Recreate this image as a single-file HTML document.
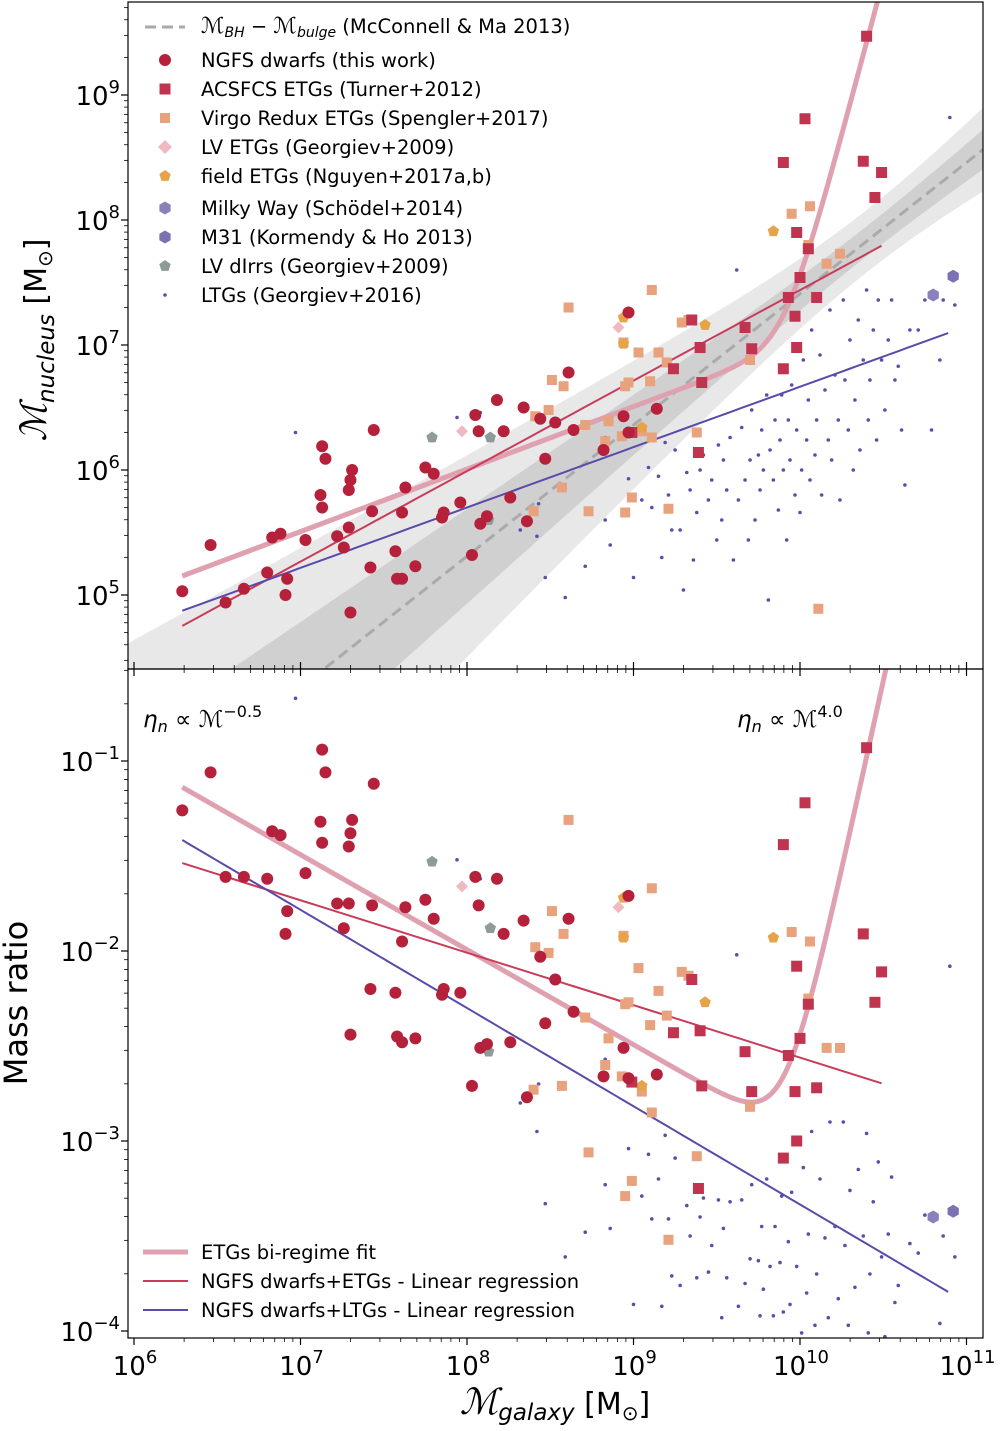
<!DOCTYPE html>
<html><head><meta charset="utf-8"><style>
body{margin:0;background:#fff;overflow:hidden;}
svg{display:block;font-family:"DejaVu Sans","Liberation Sans",sans-serif;}
</style></head><body>
<svg id="chart" width="1000" height="1431" viewBox="0 0 1000 1431" xmlns="http://www.w3.org/2000/svg">
<defs>
<clipPath id="ct"><rect x="128" y="2" width="855" height="667"/></clipPath>
<clipPath id="cb"><rect x="128" y="669" width="855" height="669"/></clipPath>
</defs>
<g id="topPanel" clip-path="url(#ct)"></g>
<g id="botPanel" clip-path="url(#cb)"></g>
<g id="axes"></g>
</svg>
<script>
// data: log10 galaxy mass, log10 nucleus mass
const ngfsM=[6.29,6.46,6.55,6.66,6.80,6.83,6.88,6.92,6.91,7.03,7.12,7.13,7.15,7.13,7.22,7.26,7.30,7.31,7.29,7.30,7.29,7.43,7.44,7.42,7.57,7.58,7.61,7.63,7.61,7.69,7.75,7.80,7.85,7.86,7.96,8.03,8.05,8.07,8.08,8.12,8.18,8.22,8.26,8.34,8.36,8.44,8.47,8.53,8.61,8.64,8.82,8.94,8.97,8.97,9.14];
const ngfsN=[5.03,5.40,4.94,5.05,5.18,5.46,5.49,5.13,5.00,5.44,5.80,6.19,6.09,5.70,5.47,5.38,5.92,6.00,5.54,4.86,5.84,5.67,6.32,5.22,5.35,5.13,5.13,5.86,5.66,5.23,6.02,5.97,5.62,5.66,5.74,5.32,6.44,6.31,5.57,5.63,6.56,6.31,5.78,6.50,5.59,6.41,6.09,6.38,6.78,6.32,6.16,6.43,7.26,6.30,6.49];
const acsM=[10.40,10.03,9.90,10.38,10.49,10.45,9.98,10.05,10.00,9.93,10.10,9.97,9.67,9.35,9.40,9.71,9.98,8.99,9.24,9.41,9.39,9.90];
const acsN=[9.47,8.81,8.46,8.47,8.38,8.18,7.90,7.77,7.54,7.38,7.38,7.23,7.14,7.20,6.98,6.97,6.98,6.30,6.81,6.70,6.14,6.81];
const virM=[8.61,9.11,9.29,9.33,8.94,9.03,9.15,9.20,8.97,8.95,9.10,8.51,8.58,8.49,8.71,8.41,8.40,8.73,8.85,8.93,8.83,9.05,9.11,9.38,8.99,8.95,9.21,8.57,9.95,10.06,10.05,10.16,10.24,10.11,9.70];
const virN=[7.30,7.44,7.18,7.20,7.02,6.94,6.94,6.86,6.70,6.67,6.71,6.72,6.67,6.48,6.36,6.43,5.67,5.67,6.39,6.27,6.23,6.31,6.26,6.30,5.78,5.66,5.69,5.86,8.05,8.11,7.80,7.65,7.73,4.89,6.88];
const lvM=[8.91,7.97], lvN=[7.14,6.31];
const fieldM=[9.84,9.43,8.94,8.94,9.05], fieldN=[7.91,7.16,7.22,7.01,6.34];
const mwM=[10.80], mwN=[7.40];
const m31M=[10.92], m31N=[7.55];
const dirrM=[7.79,8.14,8.13], dirrN=[6.26,6.26,5.60];
const ltgM=[6.97,7.94,8.08,8.32,8.42,8.43,8.47,8.59,8.71,8.83,8.83,8.86,8.97,9.00,9.05,9.09,9.11,9.15,9.17,9.19,9.21,9.23,9.25,9.28,9.30,9.32,9.34,9.36,9.38,9.40,9.42,9.45,9.47,9.50,9.51,9.53,9.54,9.56,9.58,9.60,9.62,9.63,9.65,9.67,9.69,9.70,9.71,9.73,9.75,9.76,9.77,9.78,9.80,9.81,9.82,9.84,9.85,9.87,9.88,9.89,9.90,9.92,9.93,9.94,9.95,9.97,9.98,10.00,10.01,10.02,10.04,10.05,10.06,10.07,10.09,10.10,10.12,10.13,10.15,10.17,10.18,10.19,10.21,10.23,10.24,10.26,10.27,10.29,10.30,10.32,10.33,10.35,10.36,10.38,10.40,10.41,10.42,10.44,10.46,10.47,10.49,10.51,10.53,10.55,10.57,10.59,10.61,10.63,10.66,10.71,10.75,10.79,10.84,10.86,10.90,10.93];
const ltgN=[6.30,6.42,6.46,5.52,5.47,5.73,5.14,4.98,5.23,5.60,6.26,5.40,5.93,5.14,5.76,6.02,5.70,5.95,5.30,6.22,5.80,5.52,6.16,5.52,5.04,5.98,5.84,5.28,5.66,6.00,6.12,5.76,5.92,5.44,6.20,5.60,6.08,5.84,6.26,5.28,7.60,5.76,6.34,5.92,5.44,6.08,6.48,5.60,6.12,5.84,6.32,6.00,6.60,4.96,6.16,5.92,6.40,5.68,6.24,6.60,6.00,5.44,6.40,6.08,6.68,5.80,6.32,5.66,6.00,6.88,6.24,6.56,5.92,7.12,6.12,6.40,6.92,5.80,6.64,6.24,7.28,6.08,6.76,6.40,5.76,7.36,6.72,6.32,7.04,6.00,6.56,7.20,6.16,6.88,7.44,6.40,6.72,7.12,6.24,7.36,6.88,6.48,7.04,7.36,6.72,6.83,6.32,5.88,7.12,7.12,7.36,6.32,6.88,7.36,8.82,7.32];
// fits (log space)
const mcPivot=11, mcN0=8.46, mcSlope=1.05;
const biA1=2.007, biA2=-42.58, biP1=-0.5, biP2=4.0;
const etgFit=[-1.537,-0.276,6.29,10.49];
const ltgFit=[-1.416,-0.517,6.29,10.93];
const xTicks=[6,7,8,9,10,11];
const yTopTicks=[5,6,7,8,9];
const yBotTicks=[-1,-2,-3,-4];

const X=m=>134+(m-6)*166.5;
const YT=n=>95+(9-n)*125;
const YB=e=>761+(-1-e)*190;
const clampT=y=>Math.max(0,Math.min(671,y));
const NS='http://www.w3.org/2000/svg';
function mk(tag,attrs,parent,txt){const e=document.createElementNS(NS,tag);for(const k in attrs)e.setAttribute(k,attrs[k]);if(txt!==undefined)e.textContent=txt;parent.appendChild(e);return e;}
const topG=document.getElementById('topPanel'),botG=document.getElementById('botPanel'),axes=document.getElementById('axes');

function band(a,b,c){let up=[],lo=[];for(let m=5.96;m<=11.1;m+=0.02){const mid=mcN0+mcSlope*(m-mcPivot),w=Math.sqrt(a*a+(b*(m-c))**2);up.push(X(m)+','+clampT(YT(mid+w)));lo.push(X(m)+','+clampT(YT(mid-w)));}return up.concat(lo.reverse()).join(' ');}
let e=mk('polygon',{points:band(0.25,0.32,10.4),fill:'#000','fill-opacity':0.09},topG);


e=mk('polygon',{points:band(0.12,0.15,10.4),fill:'#000','fill-opacity':0.1},topG);


e=mk('line',{x1:X(7.15),y1:YT(mcN0+mcSlope*(7.15-mcPivot)),x2:X(11.1),y2:YT(mcN0+mcSlope*(11.1-mcPivot)),stroke:'#aaa','stroke-width':3,'stroke-dasharray':'11,6'},topG);



function fitPts(f,panel){const p=[];for(let m=f[2];m<=f[3]+1e-9;m+=0.05){const r=f[0]+f[1]*(m-f[2]);p.push(X(m)+','+(panel?YT(r+m):YB(r)));}return p.join(' ');}
function biPts(panel){const p=[];for(let m=6.29;m<=10.8;m+=0.01){const r=Math.log10(Math.pow(10,biA1+biP1*m)+Math.pow(10,biA2+biP2*m));const y=panel?YT(r+m):YB(r);p.push(X(m)+','+y);if((panel&&y<-10)||(!panel&&y<660))break;}return p.join(' ');}
[[topG,1],[botG,0]].forEach(([g,pn])=>{
 let l=mk('polyline',{points:biPts(pn),fill:'none',stroke:'#dfa1b0','stroke-width':5},g);
 
 
 l=mk('polyline',{points:fitPts(etgFit,pn),fill:'none',stroke:'#c83c5a','stroke-width':2},g);
 
 
 l=mk('polyline',{points:fitPts(ltgFit,pn),fill:'none',stroke:'#5a4aaa','stroke-width':2},g);
 
 
});

function marker(g,type,x,y,col,s){
 if(type==='c')return mk('circle',{cx:x,cy:y,r:s,fill:col},g);
 if(type==='s')return mk('rect',{x:x-s,y:y-s,width:2*s,height:2*s,fill:col},g);
 if(type==='d')return mk('polygon',{points:`${x},${y-s} ${x+s},${y} ${x},${y+s} ${x-s},${y}`,fill:col},g);
 let pts=[],n=type==='p'?5:6,off=type==='p'?-Math.PI/2:Math.PI/2;
 for(let i=0;i<n;i++){const a=off+i*2*Math.PI/n;pts.push((x+s*Math.cos(a))+','+(y+s*Math.sin(a)));}
 return mk('polygon',{points:pts.join(' '),fill:col},g);
}
const series=[
 ['ltg',ltgM,ltgN,'c','#5a4fa8',1.8],
 ['dirr',dirrM,dirrN,'p','#8d9c9a',6],
 ['virgo',virM,virN,'s','#e8a27e',5],
 ['lv-etg',lvM,lvN,'d','#f0b8c0',6],
 ['field-etg',fieldM,fieldN,'p','#e5a449',6],
 ['acsfcs',acsM,acsN,'s','#c0344f',5.5],
 ['ngfs',ngfsM,ngfsN,'c','#b5203a',6],
 ['milky-way',mwM,mwN,'h','#8a80bb',6.5],
 ['m31',m31M,m31N,'h','#7d70b3',6.5]];
series.forEach(([nm,M,N,t,c,s])=>{
 M.forEach((m,i)=>{
  const yt=YT(N[i]);
  if(yt>=0&&yt<=672){
   const p=marker(topG,t,X(m),yt,c,s);
   
   
  }
  const yb=YB(N[i]-m);
  if(yb>=666&&yb<=1341){
   const q=marker(botG,t,X(m),yb,c,s);
   
   
  }
 });
});

e=mk('rect',{x:128,y:2,width:855,height:667,fill:'none',stroke:'#000','stroke-width':1.2},axes);


e=mk('rect',{x:128,y:669,width:855,height:669,fill:'none',stroke:'#000','stroke-width':1.2},axes);



function powLabel(x,y,exp,anchor,nm){
 const t=mk('text',{x:x,y:y,'font-size':26,'text-anchor':anchor,fill:'#000'},axes);
 
 
 mk('tspan',{},t,'10');mk('tspan',{dy:-12,'font-size':18},t,String(exp));
}
xTicks.forEach(m=>{
 const x=X(m);
 mk('line',{x1:x,y1:1338,x2:x,y2:1345,stroke:'#000','stroke-width':1.2},axes);
 mk('line',{x1:x,y1:669,x2:x,y2:662,stroke:'#000','stroke-width':1.2},axes);
 mk('line',{x1:x,y1:669,x2:x,y2:676,stroke:'#000','stroke-width':1.2},axes);
 powLabel(x+1,1375,m,'middle','x-tick-label');
 if(m<11)for(let k=2;k<10;k++){const xm=X(m+Math.log10(k));if(xm>983)continue;
  mk('line',{x1:xm,y1:1338,x2:xm,y2:1342,stroke:'#000','stroke-width':0.8},axes);
  mk('line',{x1:xm,y1:669,x2:xm,y2:665,stroke:'#000','stroke-width':0.8},axes);
  mk('line',{x1:xm,y1:669,x2:xm,y2:673,stroke:'#000','stroke-width':0.8},axes);}
});
yTopTicks.forEach(n=>{const y=YT(n);
 mk('line',{x1:128,y1:y,x2:121,y2:y,stroke:'#000','stroke-width':1.2},axes);
 powLabel(120,y+10,n,'end','y-top-tick-label');
 for(let k=2;k<10;k++){const ym=YT(n+Math.log10(k));if(ym<2)continue;mk('line',{x1:128,y1:ym,x2:124,y2:ym,stroke:'#000','stroke-width':0.8},axes);}
 if(n===5)for(let k=2;k<10;k++){const ym=YT(n-1+Math.log10(k));if(ym>669)continue;mk('line',{x1:128,y1:ym,x2:124,y2:ym,stroke:'#000','stroke-width':0.8},axes);}
});
yBotTicks.forEach(n=>{const y=YB(n);
 mk('line',{x1:128,y1:y,x2:121,y2:y,stroke:'#000','stroke-width':1.2},axes);
 powLabel(120,y+10,'\u2212'+(-n),'end','y-bottom-tick-label');
 for(let k=2;k<10;k++){const ym=YB(n+Math.log10(k));if(ym<669)continue;mk('line',{x1:128,y1:ym,x2:124,y2:ym,stroke:'#000','stroke-width':0.8},axes);}
});
let t=mk('text',{x:0,y:0,'font-size':30,transform:'translate(46,340) rotate(-90)','text-anchor':'middle'},axes);


mk('tspan',{'font-style':'italic','font-family':'Liberation Serif, serif','font-size':36},t,'ℳ');mk('tspan',{'font-style':'italic','font-size':23,dy:8},t,'nucleus');mk('tspan',{dy:-8},t,' [M');mk('tspan',{'font-size':20,dy:6},t,'⊙');mk('tspan',{dy:-6},t,']');
t=mk('text',{x:0,y:0,'font-size':32,transform:'translate(27,1003) rotate(-90)','text-anchor':'middle'},axes,'Mass ratio');


t=mk('text',{x:555,y:1414,'font-size':30,'text-anchor':'middle'},axes);


mk('tspan',{'font-style':'italic','font-family':'Liberation Serif, serif','font-size':36},t,'ℳ');mk('tspan',{'font-style':'italic','font-size':23,dy:6},t,'galaxy');mk('tspan',{dy:-6},t,' [M');mk('tspan',{'font-size':20,dy:6},t,'⊙');mk('tspan',{dy:-6},t,']');
t=mk('text',{x:143,y:727,'font-size':23},axes);


mk('tspan',{'font-style':'italic'},t,'η');mk('tspan',{'font-size':16,dy:5,'font-style':'italic'},t,'n');mk('tspan',{dy:-5},t,' ∝ ℳ');mk('tspan',{'font-size':16,dy:-10},t,'−0.5');
t=mk('text',{x:737,y:727,'font-size':23},axes);


mk('tspan',{'font-style':'italic'},t,'η');mk('tspan',{'font-size':16,dy:5,'font-style':'italic'},t,'n');mk('tspan',{dy:-5},t,' ∝ ℳ');mk('tspan',{'font-size':16,dy:-10},t,'4.0');

const leg=mk('g',{},axes);


e=mk('line',{x1:145,y1:27,x2:185,y2:27,stroke:'#aaa','stroke-width':3,'stroke-dasharray':'11,6'},leg);


t=mk('text',{x:201,y:33,'font-size':19.5},leg);


mk('tspan',{'font-style':'italic','font-size':22},t,'ℳ');mk('tspan',{'font-size':14,dy:4,'font-style':'italic'},t,'BH');mk('tspan',{dy:-4},t,' − ');mk('tspan',{'font-style':'italic','font-size':22},t,'ℳ');mk('tspan',{'font-size':14,dy:4,'font-style':'italic'},t,'bulge');mk('tspan',{dy:-4},t,' (McConnell & Ma 2013)');
const legItems=[['c','#b5203a',6,60,'NGFS dwarfs (this work)'],['s','#c0344f',5.5,89,'ACSFCS ETGs (Turner+2012)'],['s','#e8a27e',5,118,'Virgo Redux ETGs (Spengler+2017)'],['d','#f0b8c0',7,147,'LV ETGs (Georgiev+2009)'],['p','#e5a449',6,176,'field ETGs (Nguyen+2017a,b)'],['h','#8a80bb',6.5,208,'Milky Way (Schödel+2014)'],['h','#7d70b3',6.5,237,'M31 (Kormendy & Ho 2013)'],['p','#8d9c9a',6,266,'LV dIrrs (Georgiev+2009)'],['c','#5a4fa8',1.8,295,'LTGs (Georgiev+2016)']];
legItems.forEach(([tp,c,s,y,lab])=>{
 const m=marker(leg,tp,165,y,c,s);
 
 
 const tt=mk('text',{x:201,y:y+7,'font-size':19.5},leg,lab);
 
 
});
const leg2=mk('g',{},axes);


[['#dfa1b0',5,1252,'ETGs bi-regime fit'],['#c83c5a',2,1281,'NGFS dwarfs+ETGs - Linear regression'],['#5a4aaa',2,1310,'NGFS dwarfs+LTGs - Linear regression']].forEach(([c,w,y,lab])=>{
 const l=mk('line',{x1:143,y1:y,x2:188,y2:y,stroke:c,'stroke-width':w},leg2);
 
 
 const tt=mk('text',{x:201,y:y+7,'font-size':19.5},leg2,lab);
 
 
});
</script>
</body></html>
